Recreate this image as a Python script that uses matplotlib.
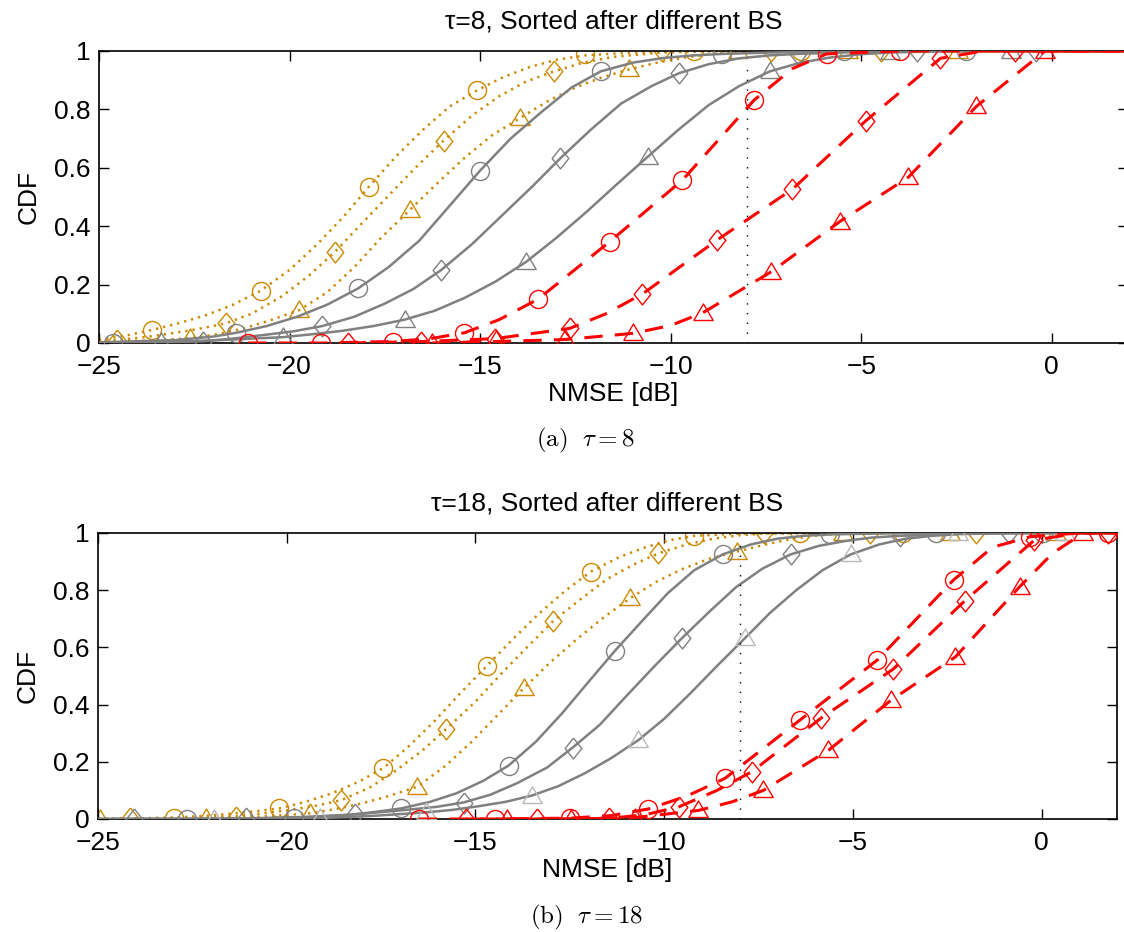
import matplotlib
matplotlib.use("Agg")
import matplotlib.pyplot as plt

plt.rcParams['font.family'] = ['Liberation Sans', 'DejaVu Sans']
plt.rcParams['mathtext.fontset'] = 'cm'

# ---------------- Panel (a): tau = 8 ----------------
# orange dotted (circle / diamond / triangle)
a_or_o_x = [-25, -24.3, -23.6, -22.9, -22.2, -21.5, -20.76, -20.0, -19.3, -18.6, -17.92, -17.2, -16.5,
            -15.8, -15.07, -14.4, -13.7, -13.0, -12.24, -11.0, -9.4, 2]
a_or_o_y = [0.012, 0.025, 0.045, 0.068, 0.095, 0.13, 0.179, 0.25, 0.335, 0.43, 0.535, 0.64, 0.73,
            0.81, 0.866, 0.91, 0.945, 0.97, 0.985, 0.995, 1.0, 1.0]
a_or_o_mx = [-23.6, -20.76, -17.92, -15.07, -12.24, -9.4, -6.57]
a_or_o_my = [0.045, 0.179, 0.535, 0.866, 0.99, 1.0, 1.0]

a_or_d_x = [-25, -24.53, -23.8, -23.1, -22.4, -21.68, -21.0, -20.2, -19.5, -18.8, -18.1, -17.4, -16.7,
            -15.96, -15.2, -14.5, -13.8, -13.07, -12.3, -11.5, -10.23, -8.5, 2]
a_or_d_y = [0.006, 0.01, 0.02, 0.033, 0.048, 0.067, 0.1, 0.16, 0.23, 0.313, 0.41, 0.505, 0.6,
            0.693, 0.78, 0.845, 0.895, 0.93, 0.96, 0.98, 0.995, 1.0, 1.0]
a_or_d_mx = [-24.53, -21.68, -18.8, -15.96, -13.07, -10.23, -7.36, -4.49]
a_or_d_my = [0.01, 0.067, 0.313, 0.693, 0.93, 1.0, 1.0, 1.0]

a_or_t_x = [-25, -23.8, -22.62, -21.9, -21.2, -20.5, -19.74, -19.0, -18.3, -17.6, -16.85, -16.1, -15.4,
            -14.7, -13.96, -13.2, -12.5, -11.8, -11.09, -10.3, -9.6, -8.9, -8.23, -6.5, 2]
a_or_t_y = [0.003, 0.008, 0.016, 0.03, 0.05, 0.078, 0.113, 0.175, 0.26, 0.36, 0.455, 0.55, 0.635,
            0.71, 0.77, 0.83, 0.875, 0.91, 0.937, 0.962, 0.978, 0.99, 0.996, 1.0, 1.0]
a_or_t_mx = [-22.62, -19.74, -16.85, -13.96, -11.09, -8.23, -5.35, -2.47]
a_or_t_my = [0.016, 0.113, 0.455, 0.77, 0.937, 1.0, 1.0, 1.0]

# gray solid
a_gr_o_x = [-25, -23, -22, -21.4, -20.6, -19.8, -19.0, -18.2, -17.4, -16.6, -15.8, -15.01, -14.2,
            -13.4, -12.6, -11.84, -11.0, -10.2, -9.4, -8.64, -7.0, -5.0, -3.0, 2]
a_gr_o_y = [0.002, 0.01, 0.022, 0.035, 0.058, 0.09, 0.132, 0.187, 0.26, 0.35, 0.47, 0.589, 0.70,
            0.79, 0.875, 0.93, 0.96, 0.976, 0.985, 0.99, 0.996, 0.999, 1.0, 1.0]
a_gr_o_mx = [-24.64, -21.4, -18.2, -15.01, -11.84, -8.64, -5.44, -2.24]
a_gr_o_my = [0.0, 0.035, 0.187, 0.589, 0.93, 0.99, 1.0, 1.0]

a_gr_d_x = [-25, -23.5, -22.27, -21.5, -20.7, -19.9, -19.14, -18.3, -17.5, -16.75, -16.02, -15.2, -14.4,
            -13.6, -12.9, -12.1, -11.3, -10.5, -9.78, -9.0, -8.2, -7.4, -6.66, -5.0, -3.0, 2]
a_gr_d_y = [0.0, 0.002, 0.006, 0.015, 0.027, 0.04, 0.058, 0.09, 0.135, 0.185, 0.25, 0.34, 0.44,
            0.54, 0.632, 0.73, 0.82, 0.88, 0.924, 0.955, 0.975, 0.985, 0.99, 0.997, 1.0, 1.0]
a_gr_d_mx = [-22.27, -19.14, -16.02, -12.9, -9.78, -6.66, -3.54, -0.42]
a_gr_d_my = [0.005, 0.058, 0.25, 0.632, 0.924, 0.99, 1.0, 1.0]

a_gr_t_x = [-25, -23.37, -21.8, -20.17, -19.4, -18.6, -17.8, -16.98, -16.2, -15.4, -14.6, -13.79, -13.0,
            -12.2, -11.4, -10.6, -9.8, -9.0, -8.2, -7.4, -6.6, -5.8, -5.0, -4.25, -2.5, 2]
a_gr_t_y = [0.0, 0.003, 0.01, 0.02, 0.03, 0.042, 0.058, 0.08, 0.11, 0.155, 0.21, 0.278, 0.36,
            0.45, 0.545, 0.638, 0.73, 0.815, 0.88, 0.93, 0.96, 0.978, 0.989, 0.995, 1.0, 1.0]
a_gr_t_mx = [-23.37, -20.17, -16.98, -13.79, -10.6, -7.4, -4.25, -1.06]
a_gr_t_my = [0.002, 0.02, 0.08, 0.278, 0.638, 0.93, 0.995, 1.0]

# red dashed
a_rd_o_x = [-21.09, -19.17, -17.29, -16.3, -15.41, -14.5, -13.48, -11.6, -9.69, -7.81, -6.8, -5.91, -3.99, 2]
a_rd_o_y = [0.0, 0.0, 0.005, 0.015, 0.035, 0.08, 0.15, 0.347, 0.558, 0.832, 0.94, 0.99, 1.0, 1.0]
a_rd_o_mx = [-21.09, -19.17, -17.29, -15.41, -13.48, -11.6, -9.69, -7.81, -5.91, -3.99]
a_rd_o_my = [0.0, 0.0, 0.005, 0.035, 0.15, 0.347, 0.558, 0.832, 0.99, 1.0]

a_rd_d_x = [-18.47, -16.54, -14.6, -12.65, -11.7, -10.74, -8.78, -6.81, -4.88, -2.92, -1.8, 2]
a_rd_d_y = [0.0, 0.005, 0.015, 0.05, 0.1, 0.168, 0.353, 0.526, 0.761, 0.975, 1.0, 1.0]
a_rd_d_mx = [-18.47, -16.54, -14.6, -12.65, -10.74, -8.78, -6.81, -4.88, -2.92, -0.97]
a_rd_d_my = [0.0, 0.005, 0.015, 0.05, 0.168, 0.353, 0.526, 0.761, 0.975, 1.0]

a_rd_t_x = [-16.27, -14.58, -12.76, -10.99, -10.0, -9.15, -7.36, -5.56, -3.77, -1.98, -0.18, 2]
a_rd_t_y = [0.0, 0.005, 0.012, 0.033, 0.06, 0.104, 0.244, 0.416, 0.567, 0.81, 1.0, 1.0]
a_rd_t_mx = [-16.27, -14.58, -12.76, -10.99, -9.15, -7.36, -5.56, -3.77, -1.98, -0.18]
a_rd_t_my = [0.0, 0.01, 0.015, 0.033, 0.104, 0.244, 0.416, 0.567, 0.81, 1.0]

a_vline_x = -8.0
a_vline_top = 0.95

# ---------------- Panel (b): tau = 18 ----------------
b_or_o_x = [-25, -24, -22.98, -22.3, -21.6, -20.9, -20.2, -19.5, -18.8, -18.1, -17.45, -16.8, -16.1,
            -15.4, -14.69, -14.0, -13.3, -12.6, -11.94, -11.2, -10.5, -9.85, -9.2, -8.0, -6.5, 2]
b_or_o_y = [0.0, 0.002, 0.005, 0.01, 0.017, 0.026, 0.037, 0.06, 0.09, 0.13, 0.177, 0.25, 0.34,
            0.44, 0.536, 0.63, 0.72, 0.8, 0.865, 0.915, 0.95, 0.975, 0.99, 0.998, 1.0, 1.0]
b_or_o_mx = [-22.98, -20.2, -17.45, -14.69, -11.94, -9.2, -6.4, -3.67]
b_or_o_my = [0.005, 0.037, 0.177, 0.536, 0.865, 0.99, 1.0, 1.0]

b_or_d_x = [-25, -24.15, -22.7, -21.35, -20.6, -19.9, -19.2, -18.55, -17.8, -17.1, -16.4, -15.77, -15.0,
            -14.3, -13.6, -12.94, -12.2, -11.5, -10.8, -10.15, -9.4, -8.7, -8.0, -7.35, -5.5, 2]
b_or_d_y = [0.0, 0.002, 0.004, 0.01, 0.02, 0.032, 0.047, 0.066, 0.11, 0.17, 0.24, 0.315, 0.41,
            0.51, 0.605, 0.692, 0.77, 0.84, 0.89, 0.929, 0.96, 0.98, 0.992, 0.998, 1.0, 1.0]
b_or_d_mx = [-24.15, -21.35, -18.55, -15.77, -12.94, -10.15, -7.35, -4.55, -1.73]
b_or_d_my = [0.002, 0.008, 0.066, 0.315, 0.692, 0.929, 1.0, 1.0, 1.0]

b_or_t_x = [-25, -22.14, -20.7, -19.37, -18.7, -18.0, -17.3, -16.54, -15.8, -15.1, -14.4, -13.72, -13.0,
            -12.3, -11.6, -10.9, -10.2, -9.5, -8.8, -8.08, -7.3, -6.6, -5.9, -5.26, -3.5, 2]
b_or_t_y = [0.0, 0.003, 0.008, 0.02, 0.035, 0.055, 0.08, 0.113, 0.185, 0.27, 0.365, 0.457, 0.55,
            0.63, 0.705, 0.772, 0.83, 0.875, 0.91, 0.935, 0.96, 0.98, 0.992, 0.998, 1.0, 1.0]
b_or_t_mx = [-24.96, -22.14, -19.37, -16.54, -13.72, -10.9, -8.08, -5.26, -2.43, 0.39]
b_or_t_my = [0.0, 0.003, 0.02, 0.113, 0.457, 0.772, 0.935, 1.0, 1.0, 1.0]

b_gr_o_x = [-25, -22.6, -21.2, -19.81, -19.1, -18.4, -17.7, -16.97, -16.2, -15.5, -14.8, -14.12, -13.4,
            -12.7, -12.0, -11.31, -10.6, -9.9, -9.2, -8.45, -7.7, -7.0, -6.3, -5.61, -4.0, -2.5, 2]
b_gr_o_y = [0.0, 0.0, 0.001, 0.004, 0.008, 0.014, 0.024, 0.037, 0.06, 0.09, 0.133, 0.187, 0.27,
            0.37, 0.48, 0.587, 0.69, 0.79, 0.87, 0.925, 0.96, 0.98, 0.99, 0.995, 0.999, 1.0, 1.0]
b_gr_o_mx = [-22.63, -19.81, -16.97, -14.12, -11.31, -8.45, -5.61, -2.79, 0.03]
b_gr_o_my = [0.0, 0.003, 0.037, 0.187, 0.587, 0.925, 0.995, 1.0, 1.0]

b_gr_d_x = [-25, -21.08, -19.6, -18.19, -17.5, -16.75, -16.0, -15.31, -14.6, -13.9, -13.1, -12.42, -11.7,
            -11.0, -10.25, -9.53, -8.8, -8.1, -7.4, -6.65, -5.9, -5.2, -4.5, -3.76, -2.0, 0.0, 2]
b_gr_d_y = [0.0, 0.002, 0.007, 0.016, 0.024, 0.033, 0.043, 0.058, 0.085, 0.125, 0.18, 0.25, 0.33,
            0.43, 0.535, 0.632, 0.725, 0.81, 0.875, 0.925, 0.955, 0.972, 0.984, 0.99, 0.998, 1.0, 1.0]
b_gr_d_mx = [-24.04, -21.08, -18.19, -15.31, -12.42, -9.53, -6.65, -3.76, -0.85]
b_gr_d_my = [0.0, 0.002, 0.016, 0.055, 0.25, 0.632, 0.925, 0.99, 1.0]

b_gr_t_x = [-25, -21.9, -19.12, -17.7, -16.32, -15.6, -14.9, -14.2, -13.5, -12.8, -12.1, -11.4, -10.68,
            -10.0, -9.3, -8.6, -7.86, -7.2, -6.5, -5.8, -5.06, -4.3, -3.6, -2.9, -2.21, -0.5, 2]
b_gr_t_y = [0.0, 0.0, 0.003, 0.011, 0.023, 0.032, 0.045, 0.06, 0.082, 0.115, 0.16, 0.213, 0.276,
            0.35, 0.44, 0.535, 0.632, 0.72, 0.8, 0.87, 0.925, 0.96, 0.98, 0.99, 0.996, 1.0, 1.0]
b_gr_t_mx = [-21.92, -19.12, -16.32, -13.5, -10.68, -7.86, -5.06, -2.21, 0.61]
b_gr_t_my = [0.0, 0.002, 0.023, 0.081, 0.276, 0.632, 0.925, 1.0, 1.0]

b_rd_o_x = [-16.5, -14.47, -12.49, -11.4, -10.42, -9.4, -8.39, -6.4, -4.35, -2.33, -1.3, -0.3, 1.0, 2]
b_rd_o_y = [0.0, 0.0, 0.003, 0.012, 0.035, 0.08, 0.142, 0.346, 0.556, 0.836, 0.95, 0.987, 1.0, 1.0]
b_rd_o_mx = [-16.5, -14.47, -12.49, -10.42, -8.39, -6.4, -4.35, -2.33, -0.3, 1.75]
b_rd_o_my = [0.0, 0.0, 0.003, 0.035, 0.142, 0.346, 0.556, 0.836, 0.987, 1.0]

b_rd_d_x = [-15.26, -13.37, -11.47, -10.5, -9.6, -8.6, -7.68, -5.83, -3.93, -2.04, -0.19, 1.0, 2]
b_rd_d_y = [0.0, 0.0, 0.002, 0.015, 0.043, 0.1, 0.165, 0.354, 0.524, 0.762, 0.975, 1.0, 1.0]
b_rd_d_mx = [-15.26, -13.37, -11.47, -9.6, -7.68, -5.83, -3.93, -2.04, -0.19, 1.75]
b_rd_d_my = [0.0, 0.0, 0.002, 0.043, 0.165, 0.354, 0.524, 0.762, 0.975, 1.0]

b_rd_t_x = [-14.16, -12.46, -10.77, -9.09, -8.2, -7.37, -5.65, -3.98, -2.28, -0.58, 0.3, 1.11, 2]
b_rd_t_y = [0.0, 0.0, 0.005, 0.03, 0.06, 0.1, 0.24, 0.416, 0.567, 0.812, 0.93, 1.0, 1.0]
b_rd_t_mx = [-14.16, -12.46, -10.77, -9.09, -7.37, -5.65, -3.98, -2.28, -0.58, 1.11]
b_rd_t_my = [0.0, 0.0, 0.005, 0.03, 0.1, 0.24, 0.416, 0.567, 0.812, 1.0]

b_vline_x = -8.0
b_vline_top = 0.97

x_ticks = [-25, -20, -15, -10, -5, 0]
x_ticklabels = ['\u221225', '\u221220', '\u221215', '\u221210', '\u22125', '0']
y_ticks = [0, 0.2, 0.4, 0.6, 0.8, 1]
y_ticklabels = ['0', '0.2', '0.4', '0.6', '0.8', '1']

ORANGE = '#CC8800'
GRAY = '#808080'
LGRAY = '#B8B8B8'
RED = '#FF0000'

DIAMOND = [(0, 1), (0.8, 0), (0, -1), (-0.8, 0), (0, 1)]
TRIANGLE = [(-1, -0.72), (1, -0.72), (0, 0.98), (-1, -0.72)]
MARKERS = {'o': ('o', 13), 'D': (DIAMOND, 15), '^': (TRIANGLE, 14)}

FS = 19
W, H = 1124, 932
fig = plt.figure(figsize=(W / 100, H / 100), dpi=100)


def ax_rect(l, r, t, b):
    return [l / W, 1 - b / H, (r - l) / W, (b - t) / H]


def draw_curve(ax, x, y, mx, my, color, ls, marker, mcolor=None, z=2):
    mcolor = mcolor or color
    if ls == 'dot':
        ax.plot(x, y, color=color, lw=1.8, linestyle=(0, (0.9, 2.0)), zorder=z)
    elif ls == 'dash':
        ax.plot(x, y, color=color, lw=2.2, linestyle=(0, (6, 4)), zorder=z)
    else:
        ax.plot(x, y, color=color, lw=1.8, linestyle='-', zorder=z)
    m, ms = MARKERS[marker]
    ax.plot(mx, my, linestyle='none', marker=m, ms=ms, mfc='none',
            mec=mcolor, mew=1.0, zorder=z + 0.5)


def setup(ax, title):
    ax.set_xlim(-25, 2)
    ax.set_ylim(0, 1)
    ax.set_xticks(x_ticks)
    ax.set_xticklabels(x_ticklabels)
    ax.set_yticks(y_ticks)
    ax.set_yticklabels(y_ticklabels)
    ax.tick_params(direction='in', length=7, width=1, top=True, right=True,
                   labelsize=FS)
    ax.tick_params(axis='x', pad=9)
    ax.tick_params(axis='y', pad=6)
    for s in ax.spines.values():
        s.set_linewidth(1.2)
    ax.set_title(title, fontsize=FS, pad=16)
    ax.set_xlabel('NMSE [dB]', fontsize=FS, labelpad=2)
    ax.set_ylabel('CDF', fontsize=FS, labelpad=10)


# Panel (a)
ax1 = fig.add_axes(ax_rect(99, 1128, 51, 343))
draw_curve(ax1, a_or_o_x, a_or_o_y, a_or_o_mx, a_or_o_my, ORANGE, 'dot', 'o')
draw_curve(ax1, a_or_d_x, a_or_d_y, a_or_d_mx, a_or_d_my, ORANGE, 'dot', 'D')
draw_curve(ax1, a_or_t_x, a_or_t_y, a_or_t_mx, a_or_t_my, ORANGE, 'dot', '^')
draw_curve(ax1, a_gr_o_x, a_gr_o_y, a_gr_o_mx, a_gr_o_my, GRAY, 'solid', 'o', z=3)
draw_curve(ax1, a_gr_d_x, a_gr_d_y, a_gr_d_mx, a_gr_d_my, GRAY, 'solid', 'D', z=3)
draw_curve(ax1, a_gr_t_x, a_gr_t_y, a_gr_t_mx, a_gr_t_my, GRAY, 'solid', '^', z=3)
draw_curve(ax1, a_rd_o_x, a_rd_o_y, a_rd_o_mx, a_rd_o_my, RED, 'dash', 'o', z=4)
draw_curve(ax1, a_rd_d_x, a_rd_d_y, a_rd_d_mx, a_rd_d_my, RED, 'dash', 'D', z=4)
draw_curve(ax1, a_rd_t_x, a_rd_t_y, a_rd_t_mx, a_rd_t_my, RED, 'dash', '^', z=4)
ax1.plot([a_vline_x, a_vline_x], [0, a_vline_top], color='black', lw=1.0,
         linestyle=(0, (1, 6)), zorder=5)
setup(ax1, '\u03c4=8, Sorted after different BS')

# Panel (b)
ax2 = fig.add_axes(ax_rect(98, 1117, 533, 819))
draw_curve(ax2, b_or_o_x, b_or_o_y, b_or_o_mx, b_or_o_my, ORANGE, 'dot', 'o')
draw_curve(ax2, b_or_d_x, b_or_d_y, b_or_d_mx, b_or_d_my, ORANGE, 'dot', 'D')
draw_curve(ax2, b_or_t_x, b_or_t_y, b_or_t_mx, b_or_t_my, ORANGE, 'dot', '^')
draw_curve(ax2, b_gr_o_x, b_gr_o_y, b_gr_o_mx, b_gr_o_my, GRAY, 'solid', 'o', z=3)
draw_curve(ax2, b_gr_d_x, b_gr_d_y, b_gr_d_mx, b_gr_d_my, GRAY, 'solid', 'D', z=3)
draw_curve(ax2, b_gr_t_x, b_gr_t_y, b_gr_t_mx, b_gr_t_my, GRAY, 'solid', '^', mcolor=LGRAY, z=3)
draw_curve(ax2, b_rd_o_x, b_rd_o_y, b_rd_o_mx, b_rd_o_my, RED, 'dash', 'o', z=4)
draw_curve(ax2, b_rd_d_x, b_rd_d_y, b_rd_d_mx, b_rd_d_my, RED, 'dash', 'D', z=4)
draw_curve(ax2, b_rd_t_x, b_rd_t_y, b_rd_t_mx, b_rd_t_my, RED, 'dash', '^', z=4)
ax2.plot([b_vline_x, b_vline_x], [0, b_vline_top], color='black', lw=1.0,
         linestyle=(0, (1, 6)), zorder=5)
setup(ax2, '\u03c4=18, Sorted after different BS')

fig.text(586 / W, 1 - 440 / H, r'$\mathrm{(a)}\ \ \tau = 8$', ha='center', va='center', fontsize=18)
fig.text(586 / W, 1 - 917 / H, r'$\mathrm{(b)}\ \ \tau = 18$', ha='center', va='center', fontsize=18)

fig.savefig('out.png', dpi=100)
